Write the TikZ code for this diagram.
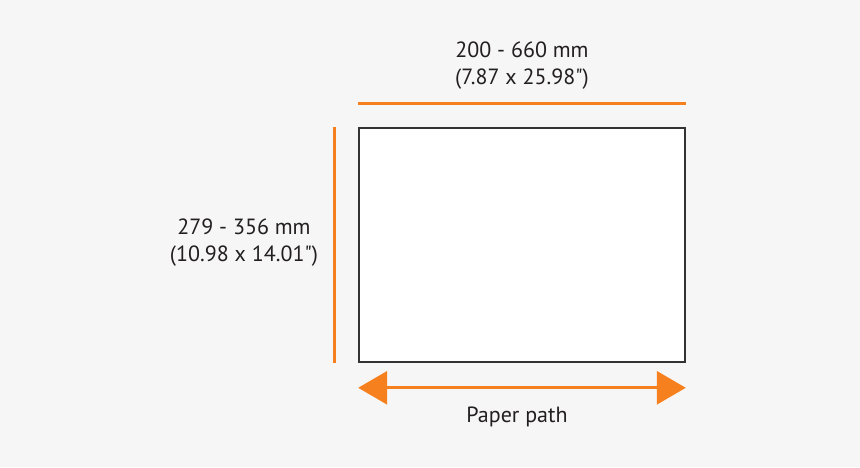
\documentclass[tikz,border=0pt]{standalone}
\usepackage{fontspec}
\setmainfont{PT Sans}
\usetikzlibrary{arrows.meta,calc}
\definecolor{bg}{HTML}{F6F6F6}
\definecolor{orng}{HTML}{F7801E}
\definecolor{txt}{HTML}{231F20}
\definecolor{frame}{HTML}{333333}
\tikzset{
  dimline/.style={draw=orng, line width=3pt},
  lbl/.style={text=txt, align=center, font=\fontsize{22pt}{27pt}\selectfont, inner sep=0pt},
  sheet/.style={draw=frame, fill=white, line width=1.6pt, minimum width=326pt, minimum height=234pt, inner sep=0pt},
  patharrow/.style={draw=orng, line width=3pt, {Triangle[length=29pt,width=33pt]}-{Triangle[length=29pt,width=33pt]}}
}
\begin{document}
\begin{tikzpicture}[x=1pt,y=-1pt]
\fill[bg] (0,0) rectangle (860,467);
\useasboundingbox (0,0) rectangle (860,467);
\node[sheet] (paper) at (522,245) {};
% top dimension line
\coordinate (tl) at ($(paper.north west)+(0,-24)$);
\coordinate (tr) at ($(paper.north east)+(0,-24)$);
\draw[dimline] (tl) -- (tr);
% left dimension line
\coordinate (lt) at ($(paper.north west)+(-23.5,0)$);
\coordinate (lb) at ($(paper.south west)+(-23.5,0)$);
\draw[dimline] (lt) -- (lb);
% paper path arrow
\coordinate (al) at ($(paper.south west)+(0,25)$);
\coordinate (ar) at ($(paper.south east)+(0,25)$);
\draw[patharrow] (al) -- (ar);
% labels
\node[lbl, anchor=base] (toplbl) at (522,84) {200 - 660 mm\\(7.87 x 25.98\textquotedbl)};
\node[lbl, anchor=base] (leftlbl) at (244,261) {279 - 356 mm\\(10.98 x 14.01\textquotedbl)};
\node[lbl, anchor=base] (pathlbl) at (517,422) {Paper path};
\end{tikzpicture}
\end{document}
